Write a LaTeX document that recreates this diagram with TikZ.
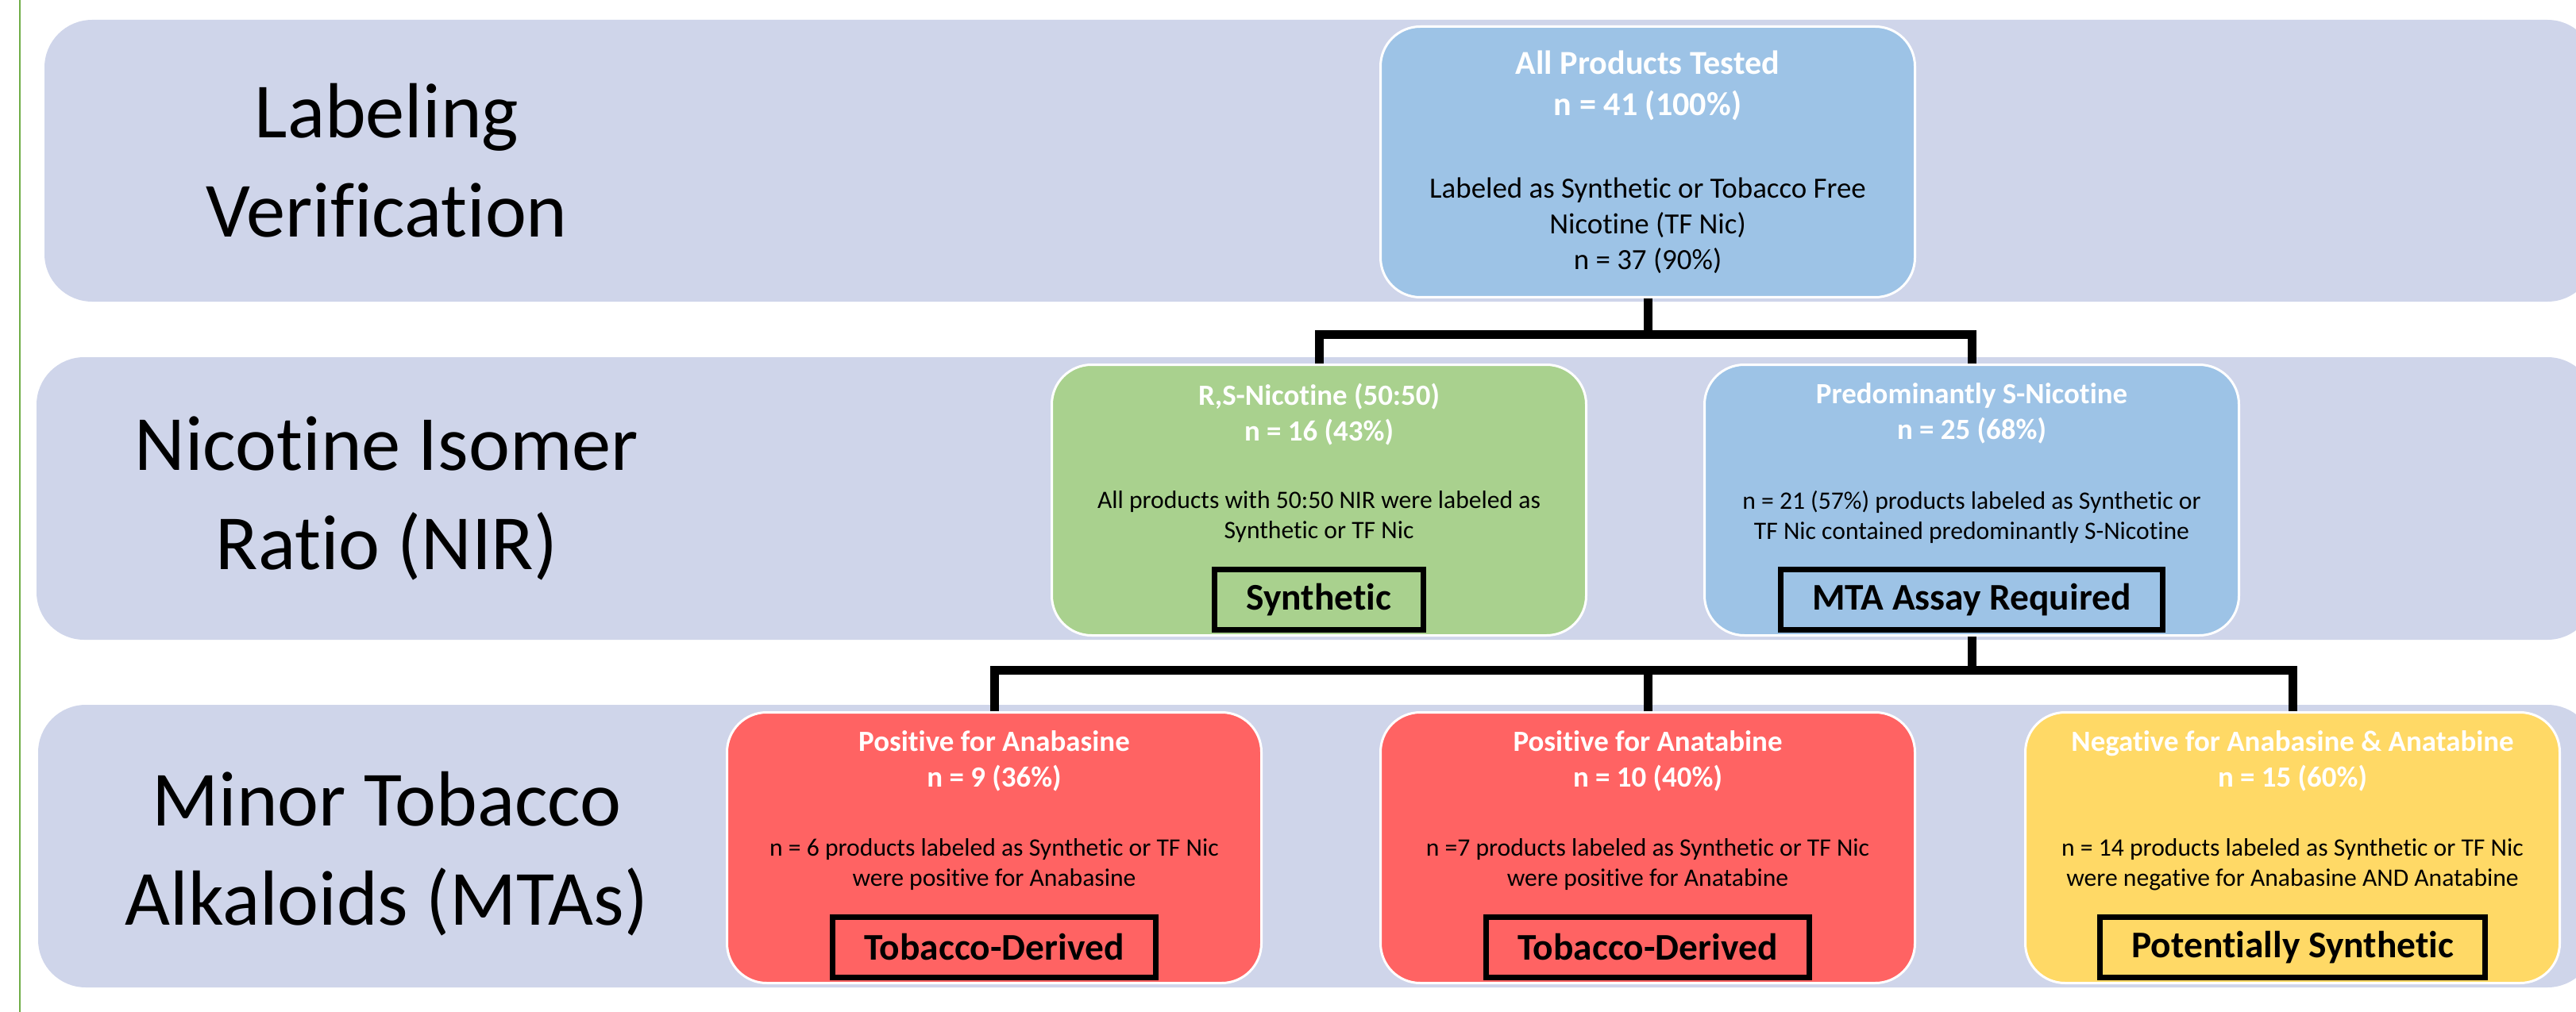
\documentclass[tikz,border=0pt]{standalone}
\usepackage{fontspec}
\setmainfont{Carlito}[Ligatures=NoCommon]
\usetikzlibrary{positioning}
\begin{document}
\begin{tikzpicture}[x=0.1mm,y=-0.1mm,
  band/.style={fill=band fill, rounded corners=6mm},
  stage/.style={align=center, inner sep=0pt, font=\fontsize{28}{35.6}\selectfont},
  card/.style={draw=white, line width=0.3mm, rounded corners=5mm, minimum width=67.3mm, minimum height=34.1mm, anchor=north},
  head/.style={align=center, inner sep=0pt, text=white, font=\bfseries\fontsize{10.5}{12.9}\selectfont},
  body/.style={align=center, inner sep=0pt, font=\fontsize{9}{10.8}\selectfont},
  verdict/.style={draw=black, line width=0.7mm, inner xsep=4mm, inner ysep=0pt, minimum height=7.6mm, font=\bfseries\fontsize{13.5}{16}\selectfont},
  link/.style={line width=1.1mm}]
\definecolor{band fill}{HTML}{CFD5EA}
\definecolor{box blue}{HTML}{9DC3E6}
\definecolor{box green}{HTML}{A9D18E}
\definecolor{box red}{HTML}{FF6363}
\definecolor{box yellow}{HTML}{FFD966}
\definecolor{edge green}{HTML}{70AD47}
\def\bandone{(56,25) rectangle (3268,380)}
\def\bandtwo{(46,450) rectangle (3268,806)}
\def\bandthree{(48,888) rectangle (3268,1244)}
    \useasboundingbox (0,0) rectangle (3244,1275);
    \fill[band] \bandone;
    \fill[band] \bandtwo;
    \fill[band] \bandthree;
    \draw[edge green, line width=0.25mm] (25,0) -- (25,1275);

    \node[stage] (labeling) at (487,202) {Labeling\\Verification};
    \node[stage] (isomer) at (487,628) {Nicotine Isomer\\Ratio (NIR)};
    \node[stage] (alkaloids) at (487,1076) {Minor Tobacco\\Alkaloids (MTAs)};

    \node[card, fill=box blue] (all) at (2075,32) {};
    \node[head, font=\bfseries\fontsize{12}{14.8}\selectfont, below=3.1mm of all.north] (all head) {All Products Tested\\n = 41 (100\%)};
    \node[body, font=\fontsize{10.5}{12.8}\selectfont, below=19.1mm of all.north] (all body) {Labeled as Synthetic or Tobacco Free\\Nicotine (TF Nic)\\n = 37 (90\%)};

    \node[card, fill=box green] (rs) at (1661,458) {};
    \node[head, below=2.4mm of rs.north] (rs head) {R,S-Nicotine (50:50)\\n = 16 (43\%)};
    \node[body, below=16mm of rs.north] (rs body) {All products with 50:50 NIR were labeled as\\Synthetic or TF Nic};
    \node[verdict, above=0.5mm of rs.south] (rs verdict) {Synthetic};

    \node[card, fill=box blue] (snic) at (2483,458) {};
    \node[head, below=2.4mm of snic.north] (snic head) {Predominantly S-Nicotine\\n = 25 (68\%)};
    \node[body, below=16mm of snic.north] (snic body) {n = 21 (57\%) products labeled as Synthetic or\\TF Nic contained predominantly S-Nicotine};
    \node[verdict, above=0.5mm of snic.south] (snic verdict) {MTA Assay Required};

    \node[card, fill=box red] (anab) at (1252,896) {};
    \node[head, below=2.4mm of anab.north] (anab head) {Positive for Anabasine\\n = 9 (36\%)};
    \node[body, below=16mm of anab.north] (anab body) {n = 6 products labeled as Synthetic or TF Nic\\were positive for Anabasine};
    \node[verdict, above=0.5mm of anab.south] (anab verdict) {Tobacco-Derived};

    \node[card, fill=box red] (anat) at (2075,896) {};
    \node[head, below=2.4mm of anat.north] (anat head) {Positive for Anatabine\\n = 10 (40\%)};
    \node[body, below=16mm of anat.north] (anat body) {n =7 products labeled as Synthetic or TF Nic\\were positive for Anatabine};
    \node[verdict, above=0.5mm of anat.south] (anat verdict) {Tobacco-Derived};

    \node[card, fill=box yellow] (neg) at (2887,896) {};
    \node[head, below=2.4mm of neg.north] (neg head) {Negative for Anabasine \& Anatabine\\n = 15 (60\%)};
    \node[body, below=16mm of neg.north] (neg body) {n = 14 products labeled as Synthetic or TF Nic\\were negative for Anabasine AND Anatabine};
    \node[verdict, above=0.5mm of neg.south] (neg verdict) {Potentially Synthetic};

    \coordinate (split one) at (2075,421);
    \coordinate (split two) at (2483,844);
    \draw[link] (all.south) -- (split one);
    \draw[link] (rs.north) |- (split one) -| (snic.north);
    \draw[link] (snic.south) -- (split two);
    \draw[link] (anab.north) |- (split two) -| (neg.north);
    \draw[link] (anat.north) -- (anat.north |- split two);

\end{tikzpicture}
\end{document}
